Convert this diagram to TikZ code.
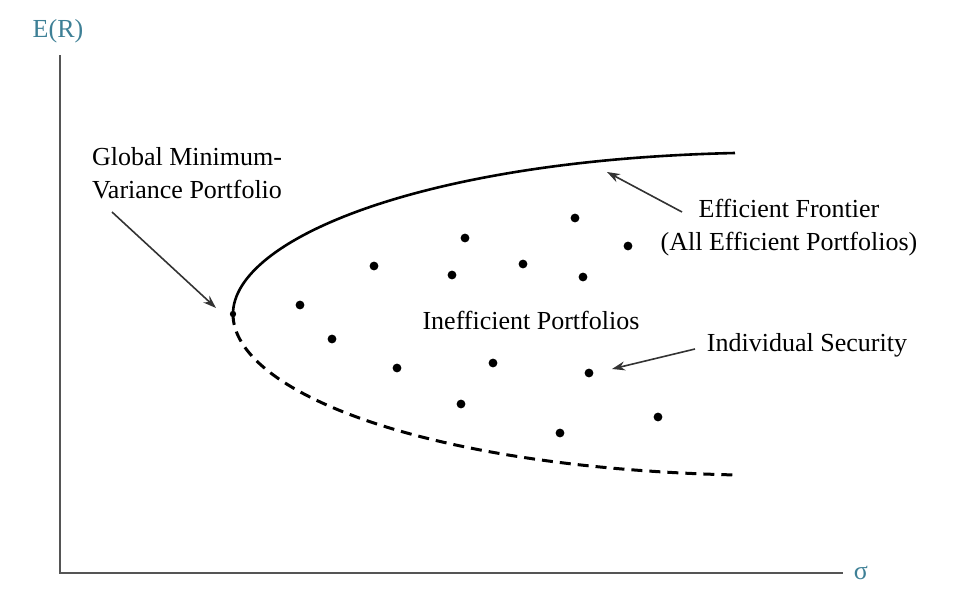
\documentclass[tikz,border=0pt]{standalone}
\usepackage{fontspec}
\setmainfont{Liberation Serif}
\usepackage{tikz}
\usetikzlibrary{arrows.meta}

\definecolor{axisteal}{RGB}{62,128,150}
\definecolor{axisgray}{RGB}{85,85,85}

\tikzset{
    pdot/.style={circle,fill,inner sep=0pt,minimum size=4.4pt},
    lbl/.style={inner sep=0pt,font=\fontsize{13}{16.5}\selectfont},
    pointer/.style={-{Stealth[length=6.5pt,width=4.5pt]},line width=0.8pt,draw=black!80},
}

\begin{document}
\begin{tikzpicture}[x=0.5pt,y=-0.5pt]
            \useasboundingbox (0,0) rectangle (966,600);
            %
            \coordinate (origin) at (60,573);
            \coordinate (ytop) at (60,55);
            \coordinate (xend) at (843,573);
            \draw[line width=1pt,axisgray] (ytop) -- (origin) -- (xend);
            \node[lbl,text=axisteal] (er) at (58,31) {E(R)};
            \node[lbl,text=axisteal] (sig) at (861,573) {σ};
            %
            \node at (233,314) [circle,fill,inner sep=0pt,minimum size=3.2pt] (gmv) {};
            \coordinate (frontend) at (735,153);
            \coordinate (lowend) at (737,475);
            \draw[line width=1.3pt] (gmv.center) .. controls (233,240) and (420,160) .. (frontend);
            \draw[line width=1.5pt,dash pattern=on 5.5pt off 3.5pt] (gmv.center) .. controls (233,390) and (420,468) .. (lowend);
            %
            \node at (300,305) [pdot] (p1) {};
            \node at (374,266) [pdot] (p2) {};
            \node at (465,238) [pdot] (p3) {};
            \node at (452,275) [pdot] (p4) {};
            \node at (523,264) [pdot] (p5) {};
            \node at (575,218) [pdot] (p6) {};
            \node at (583,277) [pdot] (p7) {};
            \node at (628,246) [pdot] (p8) {};
            \node at (332,339) [pdot] (p9) {};
            \node at (397,368) [pdot] (p10) {};
            \node at (493,363) [pdot] (p11) {};
            \node at (589,373) [pdot] (p12) {};
            \node at (461,404) [pdot] (p13) {};
            \node at (560,433) [pdot] (p14) {};
            \node at (658,417) [pdot] (p15) {};
            %
            \node[lbl,align=center] (gmvlbl) at (187,173) {Global Minimum-\\Variance Portfolio};
            \node[lbl,align=center] (efflbl) at (789,228) {Efficient Frontier\\(All Efficient Portfolios)};
            \node[lbl] (ineff) at (531,320) {Inefficient Portfolios};
            \node[lbl] (secur) at (807,345) {Individual Security};
            %
            \coordinate (gmvtail) at (112,212);
            \coordinate (gmvtip) at (216,308);
            \coordinate (efftail) at (682,212);
            \coordinate (efftip) at (607,172);
            \coordinate (sectail) at (695,349);
            \coordinate (sectip) at (612,369);
            \draw[pointer] (gmvtail) -- (gmvtip);
            \draw[pointer] (efftail) -- (efftip);
            \draw[pointer] (sectail) -- (sectip);
\end{tikzpicture}
\end{document}
